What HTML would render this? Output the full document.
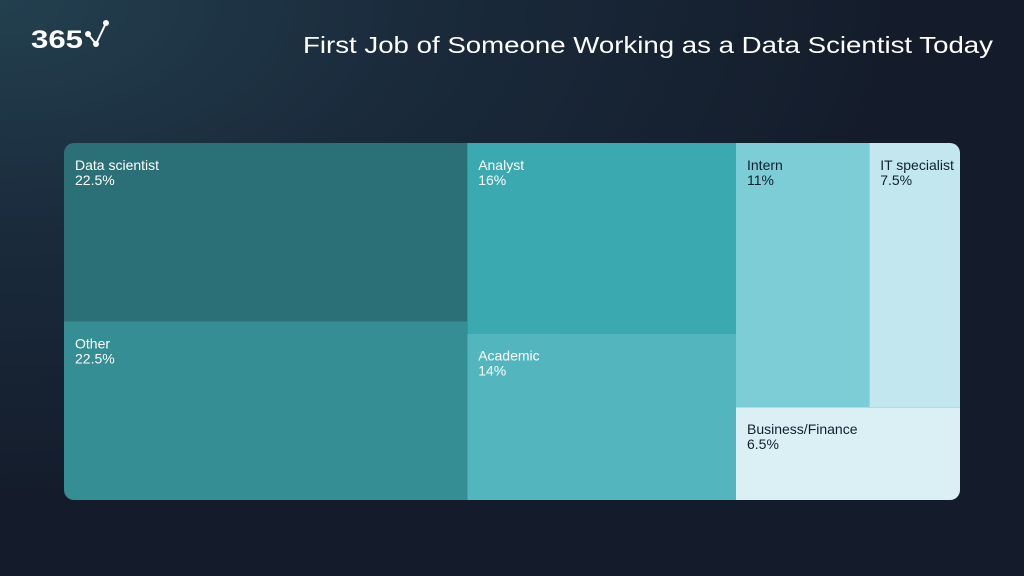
<!DOCTYPE html>
<html><head><meta charset="utf-8"><style>
html,body{margin:0;padding:0;width:1024px;height:576px;overflow:hidden}
body{background:radial-gradient(ellipse 900px 500px at 0% 0%,#23404f 0%,#1a2b3c 45%,#141c2b 100%);font-family:"Liberation Sans",sans-serif}
</style></head><body>
<svg width="1024" height="576">
<g>
<text x="31" y="48" fill="#fff" font-size="25" font-weight="bold" textLength="52" lengthAdjust="spacingAndGlyphs" font-family="Liberation Sans, sans-serif">365</text>
<polyline points="88,34 96,44 106,23" fill="none" stroke="#fff" stroke-width="2"/>
<circle cx="88" cy="34" r="3" fill="#fff"/><circle cx="96" cy="44" r="3" fill="#fff"/><circle cx="106" cy="23" r="3" fill="#fff"/>
</g>
<text x="303" y="53" textLength="690" lengthAdjust="spacingAndGlyphs" fill="#fff" font-size="23" font-family="Liberation Sans, sans-serif">First Job of Someone Working as a Data Scientist Today</text>
<defs><clipPath id="rc"><rect x="64" y="143" width="896" height="357" rx="10"/></clipPath></defs>
<g id="tm" clip-path="url(#rc)"></g>
</svg>
<script>
const categories=["Data scientist","Other","Analyst","Academic","Intern","IT specialist","Business/Finance"];
const values=[22.5,22.5,16,14,11,7.5,6.5];
const labels=["22.5%","22.5%","16%","14%","11%","7.5%","6.5%"];
const colors=["#2a7076","#348e94","#3aa9b0","#53b6be","#7ccdd6","#c3e7ee","#dbf0f5"];
const textColors=["#fff","#fff","#fff","#fff","#102030","#102030","#102030"];
const X0=64,Y0=143,W=896,H=357;
const total=values.reduce((a,b)=>a+b,0);
const gTm=document.getElementById('tm');
const ns='http://www.w3.org/2000/svg';
const rects=[];
const c1=values[0]+values[1],c2=values[2]+values[3],c3=values[4]+values[5]+values[6];
let cx=X0;
const w1=W*c1/total,w2=W*c2/total,w3=W*c3/total;
const h0=H*values[0]/c1;
rects.push([cx,Y0,w1,h0]);rects.push([cx,Y0+h0,w1,H-h0]);cx+=w1;
const h2=H*values[2]/c2;
rects.push([cx,Y0,w2,h2]);rects.push([cx,Y0+h2,w2,H-h2]);cx+=w2;
const topSum=values[4]+values[5];const ht=H*topSum/c3;const wi=w3*values[4]/topSum;
rects.push([cx,Y0,wi,ht]);rects.push([cx+wi,Y0,w3-wi,ht]);rects.push([cx,Y0+ht,w3,H-ht]);
rects.forEach((r,i)=>{
const el=document.createElementNS(ns,'rect');
el.setAttribute('x',r[0]);el.setAttribute('y',r[1]);el.setAttribute('width',r[2]);el.setAttribute('height',r[3]);
el.setAttribute('fill',colors[i]);


gTm.appendChild(el);
[categories[i],labels[i]].forEach((s,k)=>{
const t=document.createElementNS(ns,'text');
t.setAttribute('x',r[0]+11);t.setAttribute('y',r[1]+27+k*15);
t.setAttribute('fill',textColors[i]);t.setAttribute('font-size','14');
t.textContent=s;


gTm.appendChild(t);
});
});
</script>
</body></html>
